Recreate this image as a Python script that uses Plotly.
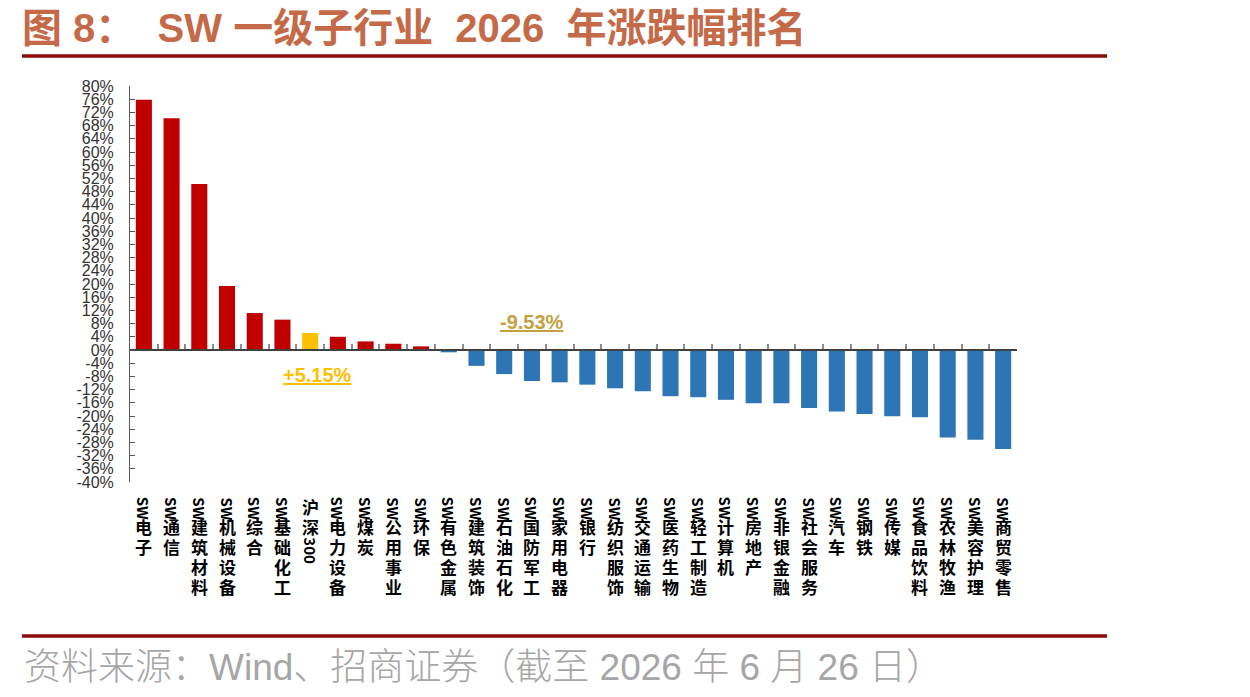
import plotly.graph_objects as go

# ---------------- data ----------------
categories = ["SW电子", "SW通信", "SW建筑材料", "SW机械设备", "SW综合", "SW基础化工", "沪深300",
              "SW电力设备", "SW煤炭", "SW公用事业", "SW环保", "SW有色金属", "SW建筑装饰", "SW石油石化",
              "SW国防军工", "SW家用电器", "SW银行", "SW纺织服饰", "SW交通运输", "SW医药生物", "SW轻工制造",
              "SW计算机", "SW房地产", "SW非银金融", "SW社会服务", "SW汽车", "SW钢铁", "SW传媒",
              "SW食品饮料", "SW农林牧渔", "SW美容护理", "SW商贸零售"]
values = [75.8, 70.2, 50.3, 19.4, 11.2, 9.2, 5.15,
          4.0, 2.6, 1.9, 1.1, -0.7, -4.8, -7.3,
          -9.4, -9.8, -10.5, -11.6, -12.5, -14.0, -14.3,
          -15.1, -16.1, -16.1, -17.6, -18.6, -19.4, -20.1,
          -20.4, -26.5, -27.2, -30.0]
benchmark = "沪深300"
y_tick_values = [80, 76, 72, 68, 64, 60, 56, 52, 48, 44, 40, 36, 32, 28, 24, 20, 16, 12, 8, 4, 0,
                 -4, -8, -12, -16, -20, -24, -28, -32, -36, -40]
y_tick_labels = ["80%", "76%", "72%", "68%", "64%", "60%", "56%", "52%", "48%", "44%", "40%", "36%",
                 "32%", "28%", "24%", "20%", "16%", "12%", "8%", "4%", "0%", "-4%", "-8%", "-12%",
                 "-16%", "-20%", "-24%", "-28%", "-32%", "-36%", "-40%"]
callout_benchmark = ("沪深300", -7.6, "+5.15%")
callout_other = ("SW国防军工", 8.6, "-9.53%")
title_text = "图 8：  SW 一级子行业  2026  年涨跌幅排名"
source_text = "资料来源：Wind、招商证券（截至 2026 年 6 月 26 日）"

# ---------------- style / layout ----------------
W, H = 1250, 697
ML, MR, MT, MB = 130, 233, 86, 215
PW, PH = W - ML - MR, H - MT - MB
Y_MIN, Y_MAX = -40, 80

RED, YELLOW, BLUE = "#C00000", "#FFC000", "#2E75B6"
TITLE_COLOR = "#C46A48"
RULE_COLOR = "#8B0A0A"
CJK = "Noto Sans CJK SC"


def px_x(px):
    return (px - ML) / PW


def px_y(py):
    return (H - MB - py) / PH


colors = [YELLOW if c == benchmark else (RED if v >= 0 else BLUE) for c, v in zip(categories, values)]

fig = go.Figure()
fig.add_trace(go.Bar(x=categories, y=values, marker=dict(color=colors, line=dict(width=0)),
                     hoverinfo="x+y", showlegend=False))

annotations = []

# vertical category labels (CJK upright, latin runs rotated)
LABEL_TOP = 14
CJK_ADV = 20
ASC_ADV = 9


def tokenize(s):
    toks = []
    for ch in s:
        a = ord(ch) < 128
        if toks and toks[-1][1] and a:
            toks[-1][0] += ch
        else:
            toks.append([ch, a])
    return toks


for cat in categories:
    cursor = LABEL_TOP
    for tok, is_ascii in tokenize(cat):
        if is_ascii:
            annotations.append(dict(x=cat, xref="x", y=0, yref="paper", xanchor="center", yanchor="top",
                                    yshift=-cursor, text=tok, textangle=90, showarrow=False, borderpad=0,
                                    font=dict(family=CJK, size=15, color="#000000", weight="bold")))
            cursor += len(tok) * ASC_ADV + 2
        else:
            annotations.append(dict(x=cat, xref="x", y=0, yref="paper", xanchor="center", yanchor="top",
                                    yshift=-cursor + 3, text=tok, showarrow=False, borderpad=0,
                                    font=dict(family=CJK, size=17, color="#000000", weight="bold")))
            cursor += CJK_ADV

# callouts
annotations.append(dict(x=callout_benchmark[0], y=callout_benchmark[1], xref="x", yref="y",
                        text="<u>" + callout_benchmark[2] + "</u>", showarrow=False, xshift=7,
                        font=dict(family="Liberation Sans", size=20, color=YELLOW, weight="bold")))
annotations.append(dict(x=callout_other[0], y=callout_other[1], xref="x", yref="y",
                        text="<u>" + callout_other[2] + "</u>", showarrow=False,
                        font=dict(family="Liberation Sans", size=20, color="#C4A040", weight="bold")))

# source text
annotations.append(dict(x=px_x(22), y=px_y(667), xref="paper", yref="paper", xanchor="left", yanchor="middle",
                        text=source_text, showarrow=False,
                        font=dict(family="Liberation Sans, " + CJK, size=37, color="#A6A6A6", weight=300)))

shapes = [
    dict(type="line", xref="paper", yref="paper", x0=px_x(22), x1=px_x(1107), y0=px_y(56), y1=px_y(56),
         line=dict(color=RULE_COLOR, width=3.5)),
    dict(type="line", xref="paper", yref="paper", x0=px_x(22), x1=px_x(1107), y0=px_y(636), y1=px_y(636),
         line=dict(color=RULE_COLOR, width=3.5)),
]

zero_pos = (0 - Y_MIN) / (Y_MAX - Y_MIN)

fig.update_layout(
    width=W, height=H,
    margin=dict(l=ML, r=MR, t=MT, b=MB, pad=0),
    paper_bgcolor="white", plot_bgcolor="white",
    bargap=0.42,
    title=dict(text=title_text, x=22 / W, xanchor="left", xref="container",
               y=1 - 28 / H, yanchor="middle", yref="container",
               font=dict(family="Liberation Sans, " + CJK, size=40, color=TITLE_COLOR, weight="bold")),
    xaxis=dict(type="category", categoryorder="array", categoryarray=categories,
               range=[-0.5, len(categories) - 0.5],
               anchor="free", position=zero_pos,
               showline=True, linecolor="#404040", linewidth=1.5,
               ticks="inside", tickson="boundaries", ticklen=5, tickwidth=2, tickcolor="#8C8C8C",
               showticklabels=False, showgrid=False, zeroline=False, fixedrange=True),
    yaxis=dict(range=[Y_MIN, Y_MAX], tickvals=y_tick_values, ticktext=y_tick_labels,
               showline=True, linecolor="#595959", linewidth=1,
               ticks="inside", ticklen=5, tickwidth=1, tickcolor="#595959",
               ticklabelstandoff=12,
               tickfont=dict(family="Liberation Sans", size=16, color="#333333"),
               showgrid=False, zeroline=False, fixedrange=True),
    annotations=annotations,
    shapes=shapes,
)

fig.write_html("out.html")
